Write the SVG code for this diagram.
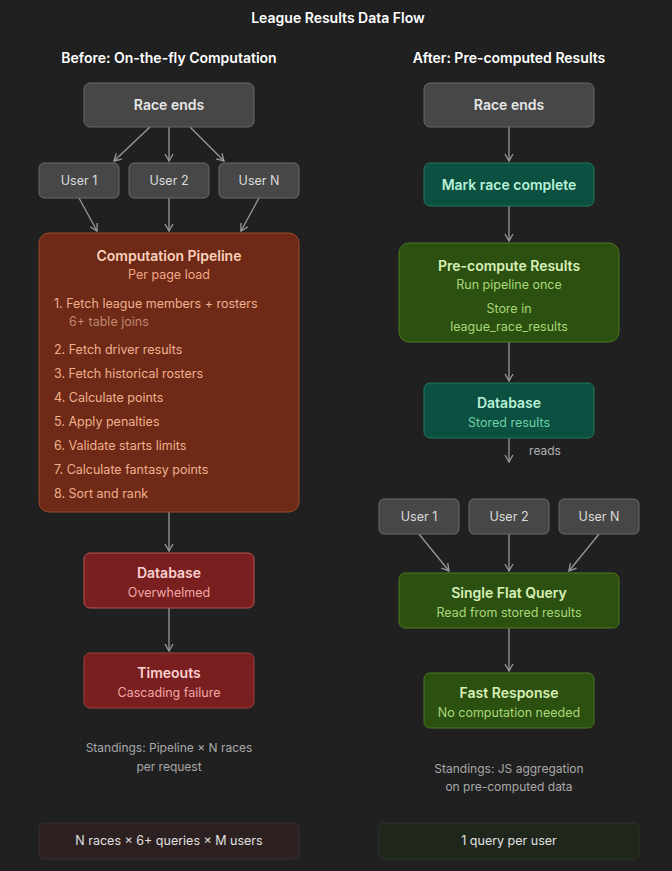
<svg xmlns="http://www.w3.org/2000/svg" width="672" height="871" viewBox="0 0 672 871">
<defs>
<style>
text{font-family:Inter,"Noto Sans","Liberation Sans",sans-serif;text-anchor:middle}
.t{fill:#fff;font-size:14px;font-weight:600}
.h{fill:#fff;font-size:14px;font-weight:600}
.g{fill:#474747;stroke:#6a6a6a}
.gt{fill:#e8e8e8;font-size:14px;font-weight:600}
.ut{fill:#dcdcdc;font-size:12.5px}
.c{stroke:#9a9a9a;stroke-width:1.3;fill:none;marker-end:url(#a)}
.s{fill:#a8a8a8;font-size:12px}
.l{text-anchor:start;fill:#f0b090;font-size:12.5px}
</style>
<marker id="a" markerWidth="10" markerHeight="10" refX="8" refY="5" orient="auto" markerUnits="userSpaceOnUse"><path d="M1,1 L8,5 L1,9" fill="none" stroke="#9a9a9a" stroke-width="1.3"/></marker>
</defs>
<rect width="672" height="871" fill="#202020"/>
<text x="338" y="23" class="t">League Results Data Flow</text>
<text x="169" y="63" class="h">Before: On-the-fly Computation</text>
<text x="509" y="63" class="h">After: Pre-computed Results</text>
<g id="connectors">
<path class="c" d="M150,127 L114,161"/>
<path class="c" d="M169,127 L169,161"/>
<path class="c" d="M190,127 L224,161"/>
<path class="c" d="M79,198 L97,231"/>
<path class="c" d="M169,198 L169,231"/>
<path class="c" d="M259,198 L241,231"/>
<path class="c" d="M169,512 L169,551"/>
<path class="c" d="M169,608 L169,651"/>
<path class="c" d="M509,127 L509,161"/>
<path class="c" d="M509,206 L509,241"/>
<path class="c" d="M509,342 L509,381"/>
<path class="c" d="M509,438 L509,462"/>
<path class="c" d="M419,534 L449,571"/>
<path class="c" d="M509,534 L509,571"/>
<path class="c" d="M599,534 L569,571"/>
<path class="c" d="M509,628 L509,671"/>
<text x="545" y="455" class="s" style="fill:#b0b0b0">reads</text>
</g>
<g id="l-race"><rect x="84" y="83" width="170" height="44" rx="6" class="g"/><text x="169" y="110" class="gt">Race ends</text></g>
<g id="l-u1"><rect x="39" y="163" width="80" height="35" rx="5" class="g"/><text x="79" y="185" class="ut">User 1</text></g>
<g id="l-u2"><rect x="129" y="163" width="80" height="35" rx="5" class="g"/><text x="169" y="185" class="ut">User 2</text></g>
<g id="l-un"><rect x="219" y="163" width="80" height="35" rx="5" class="g"/><text x="259" y="185" class="ut">User N</text></g>
<g id="pipeline"><rect x="39" y="233" width="260" height="279" rx="10" fill="#6e2a16" stroke="#9c4a2c"/>
<text x="169" y="261" style="fill:#fbd0bb;font-size:14px;font-weight:600">Computation Pipeline</text>
<text x="169" y="279" style="fill:#f0a888;font-size:12.5px">Per page load</text>
<text x="54" y="308" class="l">1. Fetch league members + rosters</text>
<text x="69" y="326" class="l" style="fill:#c08870">6+ table joins</text>
<text x="54" y="354" class="l">2. Fetch driver results</text>
<text x="54" y="378" class="l">3. Fetch historical rosters</text>
<text x="54" y="402" class="l">4. Calculate points</text>
<text x="54" y="426" class="l">5. Apply penalties</text>
<text x="54" y="450" class="l">6. Validate starts limits</text>
<text x="54" y="474" class="l">7. Calculate fantasy points</text>
<text x="54" y="498" class="l">8. Sort and rank</text>
</g>
<g id="l-db"><rect x="84" y="553" width="170" height="55" rx="6" fill="#7a1f1f" stroke="#c05555"/><text x="169" y="578" style="fill:#fbd0d0;font-size:14px;font-weight:600">Database</text><text x="169" y="597" style="fill:#f0a8a8;font-size:12.5px">Overwhelmed</text></g>
<g id="l-to"><rect x="84" y="653" width="170" height="55" rx="6" fill="#7a1f1f" stroke="#a04040"/><text x="169" y="678" style="fill:#fbd0d0;font-size:14px;font-weight:600">Timeouts</text><text x="169" y="697" style="fill:#f0a8a8;font-size:12.5px">Cascading failure</text></g>
<g id="l-note"><text x="169" y="752" class="s">Standings: Pipeline × N races</text><text x="169" y="771" class="s">per request</text></g>
<g id="l-sum"><rect x="39" y="823" width="260" height="36" rx="5" fill="#2c2020" stroke="#3a2d2d"/><text x="169" y="845" style="fill:#e0e0e0;font-size:12.5px">N races × 6+ queries × M users</text></g>

<g id="r-race"><rect x="424" y="83" width="170" height="44" rx="6" class="g"/><text x="509" y="110" class="gt">Race ends</text></g>
<g id="r-mark"><rect x="424" y="163" width="170" height="43" rx="6" fill="#0b5040" stroke="#1f7a60"/><text x="509" y="190" style="fill:#b8f0d8;font-size:14px;font-weight:600">Mark race complete</text></g>
<g id="r-pre"><rect x="399" y="243" width="220" height="99" rx="10" fill="#2c5010" stroke="#4a7a20"/>
<text x="509" y="271" style="fill:#d8f0b8;font-size:14px;font-weight:600">Pre-compute Results</text>
<text x="509" y="289" style="fill:#a8d878;font-size:12.5px">Run pipeline once</text>
<text x="509" y="313" style="fill:#a8d878;font-size:12.5px">Store in</text>
<text x="509" y="331" style="fill:#a8d878;font-size:12.5px">league_race_results</text></g>
<g id="r-db"><rect x="424" y="383" width="170" height="55" rx="6" fill="#0b5040" stroke="#1f7a60"/><text x="509" y="408" style="fill:#b8f0d8;font-size:14px;font-weight:600">Database</text><text x="509" y="427" style="fill:#70d0a8;font-size:12.5px">Stored results</text></g>
<g id="r-u1"><rect x="379" y="499" width="80" height="35" rx="5" class="g"/><text x="419" y="521" class="ut">User 1</text></g>
<g id="r-u2"><rect x="469" y="499" width="80" height="35" rx="5" class="g"/><text x="509" y="521" class="ut">User 2</text></g>
<g id="r-un"><rect x="559" y="499" width="80" height="35" rx="5" class="g"/><text x="599" y="521" class="ut">User N</text></g>
<g id="r-q"><rect x="399" y="573" width="220" height="55" rx="6" fill="#2c5010" stroke="#4a7a20"/><text x="509" y="598" style="fill:#d8f0b8;font-size:14px;font-weight:600">Single Flat Query</text><text x="509" y="617" style="fill:#a8d878;font-size:12.5px">Read from stored results</text></g>
<g id="r-fast"><rect x="424" y="673" width="170" height="55" rx="6" fill="#2c5010" stroke="#4a7a20"/><text x="509" y="698" style="fill:#d8f0b8;font-size:14px;font-weight:600">Fast Response</text><text x="509" y="717" style="fill:#a8d878;font-size:12.5px">No computation needed</text></g>
<g id="r-note"><text x="509" y="773" class="s">Standings: JS aggregation</text><text x="509" y="791" class="s">on pre-computed data</text></g>
<g id="r-sum"><rect x="379" y="823" width="260" height="36" rx="5" fill="#1f261c" stroke="#2c3528"/><text x="509" y="845" style="fill:#e0e0e0;font-size:12.5px">1 query per user</text></g>
</svg>
